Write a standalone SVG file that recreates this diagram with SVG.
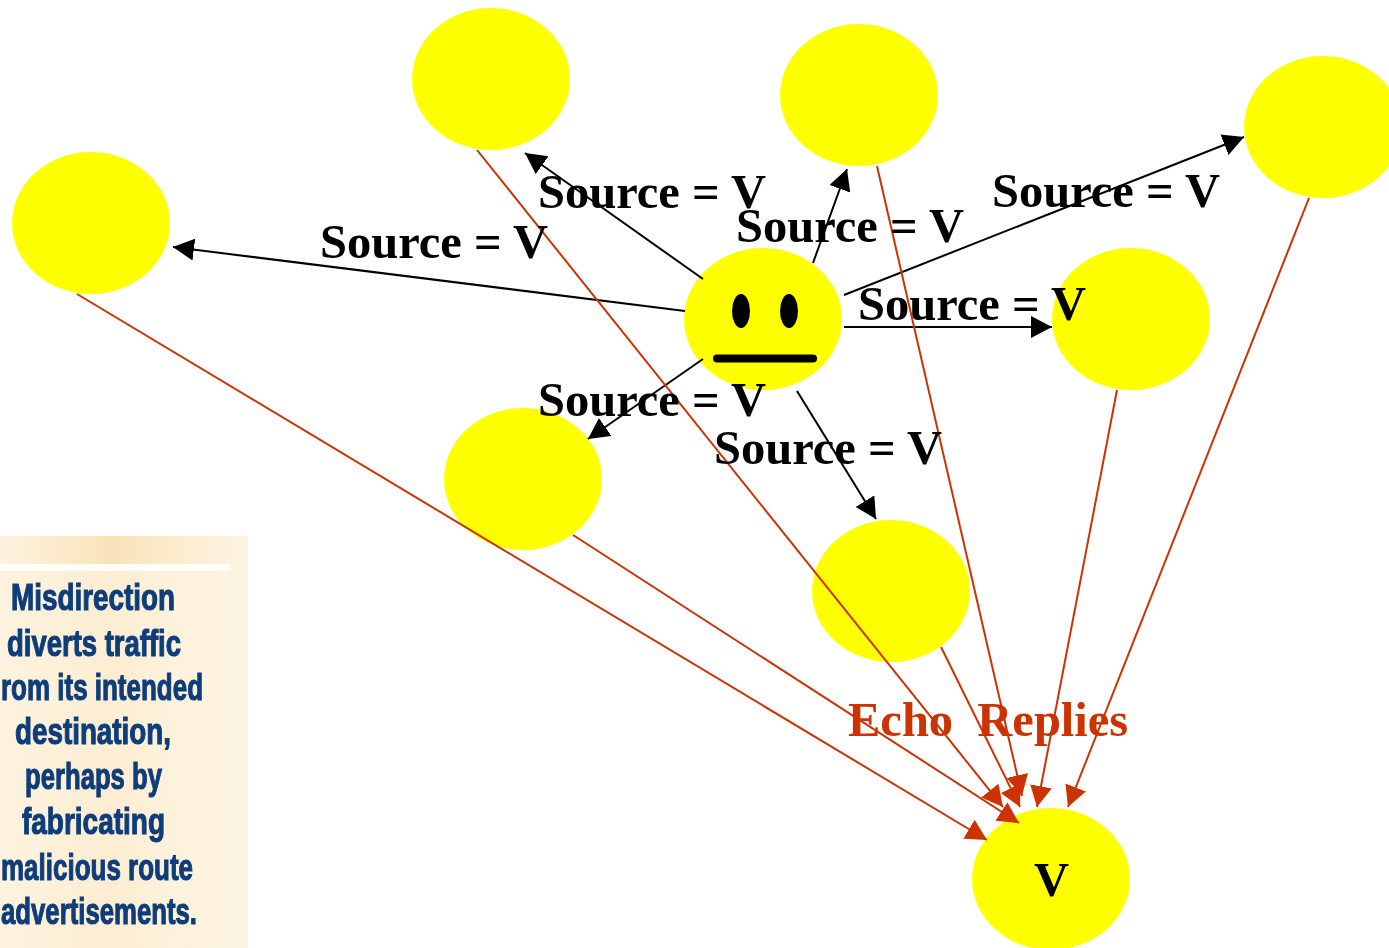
<svg xmlns="http://www.w3.org/2000/svg" width="1389" height="948" viewBox="0 0 1389 948">
<style>
.n{fill:#ffff00}
.b{stroke:#000;stroke-width:2;fill:none;marker-end:url(#hb)}
.r{stroke:#cc3300;stroke-width:2;fill:none;marker-end:url(#hr)}
.l{font-family:"Liberation Serif",serif;font-weight:bold;font-size:48.5px;fill:#000}
.e{fill:#cc3300}
.p{font-family:"Liberation Sans",sans-serif;font-weight:bold;font-size:36px;fill:#0f3d7a;stroke:#0f3d7a;stroke-width:1.1px}
</style>
<defs>
<marker id="hb" markerUnits="userSpaceOnUse" markerWidth="24" markerHeight="24" refX="21" refY="11" orient="auto"><path d="M0 0L21 11L0 22Z" fill="#000"/></marker>
<marker id="hr" markerUnits="userSpaceOnUse" markerWidth="24" markerHeight="24" refX="21" refY="11" orient="auto"><path d="M0 0L21 11L0 22Z" fill="#cc3300"/></marker>
<linearGradient id="pg" x1="0" x2="1" y1="0" y2="0"><stop offset="0" stop-color="#fdf3df"/><stop offset="0.45" stop-color="#fcedd2"/><stop offset="0.7" stop-color="#fdf2dc"/><stop offset="1" stop-color="#fdf5e3"/></linearGradient>
<linearGradient id="pt" x1="0" x2="1" y1="0" y2="0"><stop offset="0" stop-color="#fbe8c8" stop-opacity="0"/><stop offset="0.45" stop-color="#f9e2b8"/><stop offset="1" stop-color="#fbe8c8" stop-opacity="0"/></linearGradient>
<filter id="soft" x="-5%" y="-5%" width="110%" height="110%"><feGaussianBlur stdDeviation="0.7"/></filter>
</defs>
<g id="panel">
<rect x="0" y="536" width="248" height="412" fill="url(#pg)"/>
<rect x="0" y="536" width="248" height="28" fill="url(#pt)"/>
<rect x="0" y="564" width="230" height="7" fill="#fffdf8" filter="url(#soft)"/>
<g class="p" filter="url(#soft)">
<text x="11" y="610" textLength="164" lengthAdjust="spacingAndGlyphs">Misdirection</text>
<text x="7" y="656" textLength="174" lengthAdjust="spacingAndGlyphs">diverts traffic</text>
<text x="1" y="700" textLength="202" lengthAdjust="spacingAndGlyphs">rom its intended</text>
<text x="15" y="744" textLength="156" lengthAdjust="spacingAndGlyphs">destination,</text>
<text x="25" y="789" textLength="137" lengthAdjust="spacingAndGlyphs">perhaps by</text>
<text x="22" y="834" textLength="143" lengthAdjust="spacingAndGlyphs">fabricating</text>
<text x="1" y="880" textLength="192" lengthAdjust="spacingAndGlyphs">malicious route</text>
<text x="1" y="924" textLength="196" lengthAdjust="spacingAndGlyphs">advertisements.</text>
</g>
</g>
<g id="node-top-left"><ellipse class="n" cx="491" cy="79" rx="79" ry="71"/></g>
<g id="node-top-mid"><ellipse class="n" cx="859" cy="95" rx="79" ry="71"/></g>
<g id="node-top-right"><ellipse class="n" cx="1323" cy="127" rx="79" ry="71"/></g>
<g id="node-left"><ellipse class="n" cx="91" cy="223" rx="79" ry="71"/></g>
<g id="node-right"><ellipse class="n" cx="1131" cy="319" rx="79" ry="71"/></g>
<g id="node-lower-left"><ellipse class="n" cx="523" cy="479" rx="79" ry="71"/></g>
<g id="node-lower-right"><ellipse class="n" cx="891" cy="591" rx="79" ry="71"/></g>
<g id="node-attacker">
<ellipse class="n" cx="763" cy="319" rx="79" ry="71"/>
<ellipse cx="741" cy="311" rx="9" ry="17"/>
<ellipse cx="789" cy="311" rx="9" ry="17"/>
<line x1="717" y1="358.500" x2="813" y2="358.500" stroke="#000" stroke-width="8" stroke-linecap="round"/>
</g>
<g id="node-victim">
<ellipse class="n" cx="1051" cy="879" rx="79" ry="71"/>
<text class="l" x="1034" y="896">V</text>
</g>
<g id="connectors">
<line class="b" x1="703" y1="279" x2="525" y2="153"/>
<line class="b" x1="813" y1="263" x2="847" y2="169"/>
<line class="b" x1="844" y1="295" x2="1244" y2="137"/>
<line class="b" x1="844" y1="327" x2="1052" y2="327"/>
<line class="b" x1="797" y1="391" x2="876" y2="519"/>
<line class="b" x1="703" y1="359" x2="588" y2="439"/>
<line class="b" x1="685" y1="311" x2="173" y2="247"/>
<line class="r" x1="477" y1="150" x2="1003" y2="807"/>
<line class="r" x1="941" y1="647" x2="1020" y2="807"/>
<line class="r" x1="877" y1="166" x2="1022" y2="796"/>
<line class="r" x1="1117" y1="390" x2="1037" y2="807"/>
<line class="r" x1="1309" y1="198" x2="1068" y2="807"/>
<line class="r" x1="573" y1="535" x2="1019" y2="823"/>
<line class="r" x1="77" y1="294" x2="987" y2="840"/>
</g>
<g id="labels">
<text class="l" x="538" y="208">Source = V</text>
<text class="l" x="736" y="242">Source = V</text>
<text class="l" x="992" y="207">Source = V</text>
<text class="l" x="858" y="320">Source = V</text>
<text class="l" x="320" y="258">Source = V</text>
<text class="l" x="538" y="416">Source = V</text>
<text class="l" x="714" y="464">Source = V</text>
<text class="l e" x="848" y="736" xml:space="preserve">Echo  Replies</text>
</g>
</svg>
